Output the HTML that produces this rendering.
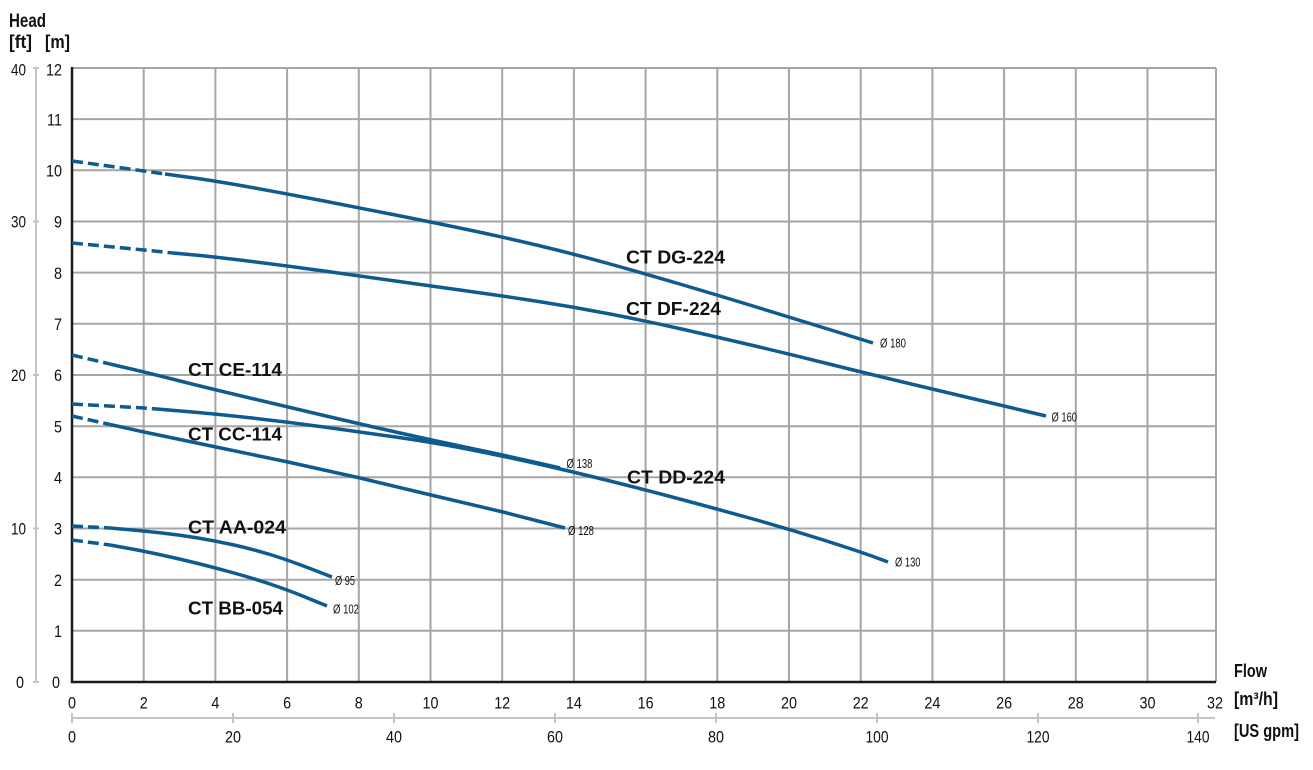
<!DOCTYPE html>
<html>
<head>
<meta charset="utf-8">
<style>
  html,body{margin:0;padding:0;background:#fff;}
  svg{display:block;}
  text{font-family:"Liberation Sans", "DejaVu Sans", sans-serif;fill:#111;}
  .tk{font-size:16.5px;}
  .b{font-weight:bold;}
  .cv{fill:none;stroke:#0d5b8f;stroke-width:3.5;stroke-linejoin:round;stroke-linecap:butt;}
  .ds{stroke-dasharray:11 5;}
  .sm{font-size:13px;}
</style>
</head>
<body>
<svg width="1313" height="770" viewBox="0 0 1313 770" xmlns="http://www.w3.org/2000/svg">
  <rect width="1313" height="770" fill="#fff"/>

  <!-- grid -->
  <g stroke="#a6a6a6" stroke-width="2">
    <line x1="143.7" y1="68" x2="143.7" y2="682"/>
    <line x1="215.4" y1="68" x2="215.4" y2="682"/>
    <line x1="287.1" y1="68" x2="287.1" y2="682"/>
    <line x1="358.8" y1="68" x2="358.8" y2="682"/>
    <line x1="430.5" y1="68" x2="430.5" y2="682"/>
    <line x1="502.2" y1="68" x2="502.2" y2="682"/>
    <line x1="573.9" y1="68" x2="573.9" y2="682"/>
    <line x1="645.6" y1="68" x2="645.6" y2="682"/>
    <line x1="717.3" y1="68" x2="717.3" y2="682"/>
    <line x1="789" y1="68" x2="789" y2="682"/>
    <line x1="860.7" y1="68" x2="860.7" y2="682"/>
    <line x1="932.4" y1="68" x2="932.4" y2="682"/>
    <line x1="1004.1" y1="68" x2="1004.1" y2="682"/>
    <line x1="1075.8" y1="68" x2="1075.8" y2="682"/>
    <line x1="1147.5" y1="68" x2="1147.5" y2="682"/>
    <line x1="1216" y1="68" x2="1216" y2="682"/>

    <line x1="72" y1="68" x2="1216" y2="68"/>
    <line x1="72" y1="119.1" x2="1216" y2="119.1"/>
    <line x1="72" y1="170.3" x2="1216" y2="170.3"/>
    <line x1="72" y1="221.5" x2="1216" y2="221.5"/>
    <line x1="72" y1="272.6" x2="1216" y2="272.6"/>
    <line x1="72" y1="323.8" x2="1216" y2="323.8"/>
    <line x1="72" y1="375" x2="1216" y2="375"/>
    <line x1="72" y1="426.2" x2="1216" y2="426.2"/>
    <line x1="72" y1="477.3" x2="1216" y2="477.3"/>
    <line x1="72" y1="528.5" x2="1216" y2="528.5"/>
    <line x1="72" y1="579.7" x2="1216" y2="579.7"/>
    <line x1="72" y1="630.8" x2="1216" y2="630.8"/>
  </g>

  <!-- main axes -->
  <line x1="72" y1="67" x2="72" y2="683" stroke="#1a1a1a" stroke-width="2.5"/>
  <line x1="71" y1="682" x2="1216" y2="682" stroke="#1a1a1a" stroke-width="2.5"/>

  <!-- ft axis -->
  <g stroke="#c4c4c4" stroke-width="2">
    <line x1="36" y1="68" x2="36" y2="682"/>
    <line x1="33" y1="68" x2="39" y2="68"/>
    <line x1="33" y1="221.5" x2="39" y2="221.5"/>
    <line x1="33" y1="375" x2="39" y2="375"/>
    <line x1="33" y1="528.5" x2="39" y2="528.5"/>
    <line x1="33" y1="682" x2="39" y2="682"/>
  </g>
  <!-- gpm axis -->
  <g stroke="#c4c4c4" stroke-width="2">
    <line x1="72" y1="718" x2="1215" y2="718"/>
    <line x1="72" y1="713" x2="72" y2="723"/>
    <line x1="233" y1="713" x2="233" y2="723"/>
    <line x1="394" y1="713" x2="394" y2="723"/>
    <line x1="555" y1="713" x2="555" y2="723"/>
    <line x1="716" y1="713" x2="716" y2="723"/>
    <line x1="877" y1="713" x2="877" y2="723"/>
    <line x1="1038" y1="713" x2="1038" y2="723"/>
    <line x1="1198" y1="713" x2="1198" y2="723"/>
  </g>

  <!-- axis titles -->
  <text x="9" y="27" class="b" font-size="19" textLength="37" lengthAdjust="spacingAndGlyphs">Head</text>
  <text x="9" y="48" class="b" font-size="18" textLength="23" lengthAdjust="spacingAndGlyphs">[ft]</text>
  <text x="45" y="48" class="b" font-size="18" textLength="25" lengthAdjust="spacingAndGlyphs">[m]</text>
  <text x="1234" y="677" class="b" font-size="18" textLength="33" lengthAdjust="spacingAndGlyphs">Flow</text>
  <text x="1234" y="705" class="b" font-size="18" textLength="44" lengthAdjust="spacingAndGlyphs">[m³/h]</text>
  <text x="1234" y="737" class="b" font-size="18" textLength="65" lengthAdjust="spacingAndGlyphs">[US gpm]</text>

  <!-- m labels -->
  <g class="tk" text-anchor="end">
    <text x="62" y="75.5" textLength="16" lengthAdjust="spacingAndGlyphs">12</text>
    <text x="62" y="125.5" textLength="15" lengthAdjust="spacingAndGlyphs">11</text>
    <text x="62" y="176.5" textLength="16" lengthAdjust="spacingAndGlyphs">10</text>
    <text x="62" y="227.5" textLength="8" lengthAdjust="spacingAndGlyphs">9</text>
    <text x="62" y="279" textLength="8" lengthAdjust="spacingAndGlyphs">8</text>
    <text x="62" y="330" textLength="8" lengthAdjust="spacingAndGlyphs">7</text>
    <text x="62" y="381" textLength="8" lengthAdjust="spacingAndGlyphs">6</text>
    <text x="62" y="432.5" textLength="8" lengthAdjust="spacingAndGlyphs">5</text>
    <text x="62" y="483.5" textLength="8" lengthAdjust="spacingAndGlyphs">4</text>
    <text x="62" y="534.5" textLength="8" lengthAdjust="spacingAndGlyphs">3</text>
    <text x="62" y="586" textLength="8" lengthAdjust="spacingAndGlyphs">2</text>
    <text x="62" y="637" textLength="8" lengthAdjust="spacingAndGlyphs">1</text>
    <text x="60" y="688" textLength="8" lengthAdjust="spacingAndGlyphs">0</text>
  </g>
  <!-- ft labels -->
  <g class="tk" text-anchor="end">
    <text x="26" y="75.5" textLength="15" lengthAdjust="spacingAndGlyphs">40</text>
    <text x="26" y="227.5" textLength="15" lengthAdjust="spacingAndGlyphs">30</text>
    <text x="26" y="381" textLength="15" lengthAdjust="spacingAndGlyphs">20</text>
    <text x="26" y="534.5" textLength="15" lengthAdjust="spacingAndGlyphs">10</text>
    <text x="24" y="688" textLength="8" lengthAdjust="spacingAndGlyphs">0</text>
  </g>
  <!-- m3/h labels -->
  <g class="tk" text-anchor="middle">
    <text x="72" y="708.5" textLength="8" lengthAdjust="spacingAndGlyphs">0</text>
    <text x="143.7" y="708.5" textLength="8" lengthAdjust="spacingAndGlyphs">2</text>
    <text x="215.4" y="708.5" textLength="8" lengthAdjust="spacingAndGlyphs">4</text>
    <text x="287.1" y="708.5" textLength="8" lengthAdjust="spacingAndGlyphs">6</text>
    <text x="358.8" y="708.5" textLength="8" lengthAdjust="spacingAndGlyphs">8</text>
    <text x="430.5" y="708.5" textLength="16" lengthAdjust="spacingAndGlyphs">10</text>
    <text x="502.2" y="708.5" textLength="16" lengthAdjust="spacingAndGlyphs">12</text>
    <text x="573.9" y="708.5" textLength="16" lengthAdjust="spacingAndGlyphs">14</text>
    <text x="645.6" y="708.5" textLength="16" lengthAdjust="spacingAndGlyphs">16</text>
    <text x="717.3" y="708.5" textLength="16" lengthAdjust="spacingAndGlyphs">18</text>
    <text x="789" y="708.5" textLength="16" lengthAdjust="spacingAndGlyphs">20</text>
    <text x="860.7" y="708.5" textLength="16" lengthAdjust="spacingAndGlyphs">22</text>
    <text x="932.4" y="708.5" textLength="16" lengthAdjust="spacingAndGlyphs">24</text>
    <text x="1004.1" y="708.5" textLength="16" lengthAdjust="spacingAndGlyphs">26</text>
    <text x="1075.8" y="708.5" textLength="16" lengthAdjust="spacingAndGlyphs">28</text>
    <text x="1147.5" y="708.5" textLength="16" lengthAdjust="spacingAndGlyphs">30</text>
    <text x="1215" y="708.5" textLength="16" lengthAdjust="spacingAndGlyphs">32</text>
  </g>
  <!-- gpm labels -->
  <g class="tk" text-anchor="middle">
    <text x="72" y="742.5" textLength="8" lengthAdjust="spacingAndGlyphs">0</text>
    <text x="233" y="742.5" textLength="16" lengthAdjust="spacingAndGlyphs">20</text>
    <text x="394" y="742.5" textLength="16" lengthAdjust="spacingAndGlyphs">40</text>
    <text x="555" y="742.5" textLength="16" lengthAdjust="spacingAndGlyphs">60</text>
    <text x="716" y="742.5" textLength="16" lengthAdjust="spacingAndGlyphs">80</text>
    <text x="877" y="742.5" textLength="23" lengthAdjust="spacingAndGlyphs">100</text>
    <text x="1038" y="742.5" textLength="23" lengthAdjust="spacingAndGlyphs">120</text>
    <text x="1198" y="742.5" textLength="23" lengthAdjust="spacingAndGlyphs">140</text>
  </g>

  <!-- curves -->
  <!-- DG-224 -->
  <polyline class="cv ds" points="72,161 144,171 165,174"/>
  <path class="cv" d="M165,174 L190.5,177.5 Q216,181 252,187.5 Q288,194 324,201 Q360,208 395.5,215 Q431,222 467,229.5 Q503,237 538.5,245.5 Q574,254 610,264 Q646,274 681.5,284.5 Q717,295 753,306 Q789,317 831,330 L873,343"/>
  <!-- DF-224 -->
  <polyline class="cv ds" points="72,243 144,250 173,253"/>
  <path class="cv" d="M173,253 L194.5,255 Q216,257 252,261.5 Q288,266 324,271 Q360,276 395.5,281 Q431,286 467,291 Q503,296 538.5,301.5 Q574,307 610,314 Q646,321 681.5,329 Q717,337 753,345.5 Q789,354 825,363 Q861,372 896.5,380.5 Q932,389 968,397.5 Q1004,406 1025,411 L1046,416"/>
  <!-- CE-114 -->
  <polyline class="cv ds" points="72,355 110,364"/>
  <path class="cv" d="M110,364 L127,368 Q144,372 180,381 Q216,390 252,398.5 Q288,407 324,415.5 Q360,424 395.5,432 Q431,440 467,447.5 Q503,455 531.5,461.5 L560,468"/>
  <!-- DD-224 -->
  <polyline class="cv ds" points="72,404 144,408 157,409"/>
  <path class="cv" d="M157,409 L186.5,411.5 Q216,414 252,418 Q288,422 324,427 Q360,432 395.5,437 Q431,442 467,449 Q503,456 538.5,464 Q574,472 610,481 Q646,490 681.5,499.5 Q717,509 753,519 Q789,529 825,540.5 Q861,552 874.5,557 L888,562"/>
  <!-- CC-114 -->
  <polyline class="cv ds" points="72,416 110,424.5"/>
  <polyline class="cv" points="110,424.5 144,432 216,447 288,462 360,478 431,495 503,512 565,528"/>
  <!-- AA-024 -->
  <polyline class="cv ds" points="72,526 110,528"/>
  <path class="cv" d="M110,528 L127,529.5 Q144,531 162,533 Q180,535 198,538 Q216,541 234,545 Q252,549 270,554.5 Q288,560 310,568.5 L332,577"/>
  <!-- BB-054 -->
  <polyline class="cv ds" points="72,540 110,545"/>
  <path class="cv" d="M110,545 L126.5,548 Q143,551 161.5,555 Q180,559 198,563.5 Q216,568 234,573 Q252,578 270,584 Q288,590 307.5,598 L327,606"/>

  <!-- curve labels -->
  <g class="b" font-size="18.5">
    <text x="626" y="263.5" textLength="99" lengthAdjust="spacingAndGlyphs">CT DG-224</text>
    <text x="626" y="315" textLength="95" lengthAdjust="spacingAndGlyphs">CT DF-224</text>
    <text x="188" y="376" textLength="94" lengthAdjust="spacingAndGlyphs">CT CE-114</text>
    <text x="188" y="440.5" textLength="94" lengthAdjust="spacingAndGlyphs">CT CC-114</text>
    <text x="627" y="483.5" textLength="98" lengthAdjust="spacingAndGlyphs">CT DD-224</text>
    <text x="188" y="533.5" textLength="98" lengthAdjust="spacingAndGlyphs">CT AA-024</text>
    <text x="188" y="614.5" textLength="95" lengthAdjust="spacingAndGlyphs">CT BB-054</text>
  </g>

  <!-- diameter labels -->
  <g class="sm">
    <text x="880" y="347.5" textLength="26" lengthAdjust="spacingAndGlyphs">Ø 180</text>
    <text x="1051.5" y="421.5" textLength="25.5" lengthAdjust="spacingAndGlyphs">Ø 160</text>
    <text x="566.5" y="468" textLength="26" lengthAdjust="spacingAndGlyphs">Ø 138</text>
    <text x="568" y="535" textLength="26" lengthAdjust="spacingAndGlyphs">Ø 128</text>
    <text x="895" y="566.5" textLength="25.5" lengthAdjust="spacingAndGlyphs">Ø 130</text>
    <text x="335" y="585" textLength="20" lengthAdjust="spacingAndGlyphs">Ø 95</text>
    <text x="333" y="613.5" textLength="26" lengthAdjust="spacingAndGlyphs">Ø 102</text>
  </g>
</svg>
</body>
</html>
